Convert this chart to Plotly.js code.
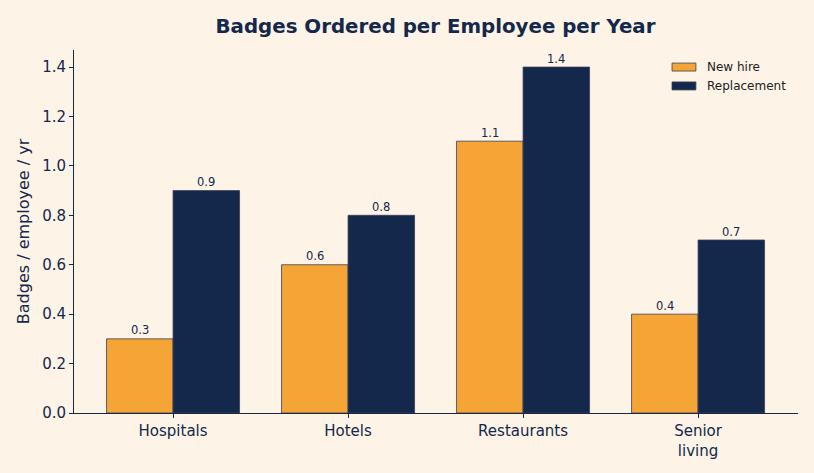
<!DOCTYPE html>
<html>
<head>
<meta charset="utf-8">
<script src="https://cdn.plot.ly/plotly-3.0.1.min.js"></script>
<style>
  html, body { margin: 0; padding: 0; background: #fdf4e7; }
  #chart { width: 814px; height: 473px; }
</style>
</head>
<body>
<div id="chart"></div>
<script>
// Sectors and badge ordering rates
const categories = ["Hospitals", "Hotels", "Restaurants", "Senior<br>living"];
const newHire = [0.3, 0.6, 1.1, 0.4];
const replacement = [0.9, 0.8, 1.4, 0.7];
const seriesNames = ["New hire", "Replacement"];
const seriesColors = ["#f5a535", "#14284b"];

const ink = "#14284b";
const edge = "#3a3f55";
const bg = "#fdf4e7";
const font = "DejaVu Sans, sans-serif";
const barWidth = 0.38;

const seriesValues = [newHire, replacement];

const traces = seriesValues.map((vals, i) => ({
  type: "bar", name: seriesNames[i], x: categories, y: vals,
  marker: { color: seriesColors[i], line: { color: edge, width: 0.8 } }
}));

// Value labels sitting just above each bar
const valueNotes = [];
seriesValues.forEach((vals, s) => {
  vals.forEach((v, i) => {
    valueNotes.push({
      xref: "x", yref: "y", x: i + (s - 0.5) * barWidth, y: v,
      xanchor: "center", yanchor: "bottom", yshift: -0.5, showarrow: false,
      text: v.toFixed(1), font: { family: font, size: 11.5, color: ink }
    });
  });
});

// Legend drawn as wide swatches with labels in the top-right corner
const legendShapes = [];
const legendNotes = [];
seriesNames.forEach((name, i) => {
  const yTop = 0.964 - i * 0.052;
  legendShapes.push({
    type: "rect", xref: "paper", yref: "paper",
    x0: 0.826, x1: 0.859, y0: yTop - 0.022, y1: yTop,
    fillcolor: seriesColors[i], line: { color: edge, width: 0.8 }
  });
  legendNotes.push({
    xref: "paper", yref: "paper", x: 0.872, y: yTop - 0.011,
    xanchor: "left", yanchor: "middle", showarrow: false,
    text: name, font: { family: font, size: 12, color: "#222" }
  });
});

const layout = {
  width: 814, height: 473,
  paper_bgcolor: bg, plot_bgcolor: bg,
  font: { family: font, color: ink },
  margin: { l: 74, r: 16, t: 50, b: 60 },
  title: {
    text: "<b>Badges Ordered per Employee per Year</b>",
    font: { family: font, size: 19.8, color: ink },
    x: 0.535, xanchor: "center", y: 0.944, yanchor: "middle"
  },
  barmode: "group", bargap: 1 - 2 * barWidth, bargroupgap: 0,
  showlegend: false,
  shapes: legendShapes,
  annotations: valueNotes.concat(legendNotes),
  xaxis: {
    type: "category", range: [-0.566, 3.571],
    showline: true, linecolor: ink, linewidth: 1,
    ticks: "outside", ticklen: 4, tickcolor: ink,
    tickfont: { family: font, size: 15, color: ink },
    showgrid: false, zeroline: false
  },
  yaxis: {
    range: [0, 1.469], dtick: 0.2, tickformat: ".1f",
    showline: true, linecolor: ink, linewidth: 1,
    ticks: "outside", ticklen: 4, tickcolor: ink,
    tickfont: { family: font, size: 15, color: ink },
    showgrid: false, zeroline: false,
    title: { text: "Badges / employee / yr", font: { family: font, size: 16, color: ink }, standoff: 8 }
  }
};

Plotly.newPlot("chart", traces, layout, { displayModeBar: false, staticPlot: true });
</script>
</body>
</html>
